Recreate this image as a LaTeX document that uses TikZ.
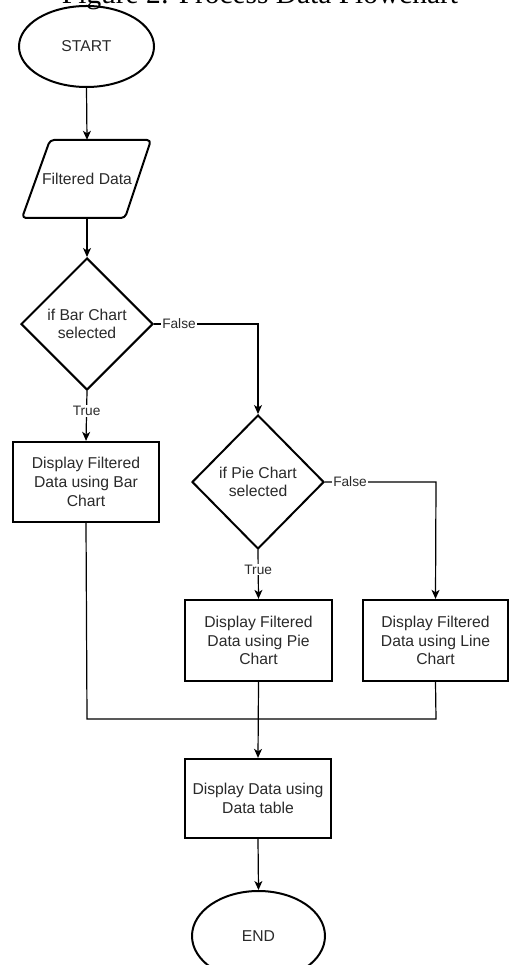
\documentclass[tikz,border=0pt]{standalone}
\usepackage{fontspec}
\setmainfont{Liberation Serif}
\setsansfont{Liberation Sans}
\usetikzlibrary{shapes.geometric,arrows.meta}
\definecolor{txt}{HTML}{2A2A2A}
\tikzset{
  shapeline/.style={draw=black, line width=2pt},
  boxnode/.style={shapeline, line width=2.3pt, rectangle, align=center, inner sep=0pt,
    font=\sffamily\fontsize{15.7}{18.7}\selectfont, text=txt},
  termnode/.style={shapeline, ellipse, inner sep=0pt, font=\sffamily\fontsize{15.7}{18.7}\selectfont, text=txt},
  decnode/.style={shapeline, diamond, aspect=1, inner sep=0pt, align=center,
    font=\sffamily\fontsize{15.7}{18.7}\selectfont, text=txt},
  conn/.style={draw=black, line width=1.2pt, -{Stealth[length=9pt,width=8pt,inset=2.5pt]}},
  plainconn/.style={draw=black, line width=1.2pt},
  lbl/.style={fill=white, inner sep=1pt, font=\sffamily\fontsize{13.7}{16}\selectfont, text=txt}
}
\begin{document}
\begin{tikzpicture}[x=1pt,y=-1pt]
\useasboundingbox (0,0) rectangle (509,965);
\clip (0,0) rectangle (509,965);
\fill[white] (0,0) rectangle (509,965);
% title (cut off at top)
\node[anchor=base, inner sep=0pt, font=\rmfamily\fontsize{29.4}{34}\selectfont] (title) at (260,3.5) {Figure 2: Process Data Flowchart};
% start
\node[termnode, minimum width=135pt, minimum height=81pt] (start) at (86.5,46.5) {START};
% filtered data parallelogram
\draw[shapeline, line join=round, rounded corners=4pt] (50,140) -- (151,140) -- (125,218) -- (22,218) -- cycle;
\node[inner sep=0pt, minimum width=100pt, minimum height=78pt, font=\sffamily\fontsize{15.7}{18.7}\selectfont, text=txt] (fd) at (87,179) {Filtered Data};
% decision 1
\node[decnode, minimum width=132pt, minimum height=132pt] (d1) at (87,324) {if Bar Chart\\selected};
% bar box
\node[boxnode, minimum width=146pt, minimum height=80pt] (bar) at (86,482) {Display Filtered\\Data using Bar\\Chart};
% decision 2
\node[decnode, minimum width=132pt, minimum height=134pt] (d2) at (258,482) {if Pie Chart\\selected};
% pie box
\node[boxnode, minimum width=147pt, minimum height=81pt] (pie) at (258.5,640.5) {Display Filtered\\Data using Pie\\Chart};
% line box
\node[boxnode, minimum width=145pt, minimum height=81pt] (line) at (435.5,640.5) {Display Filtered\\Data using Line\\Chart};
% table box
\node[boxnode, minimum width=146pt, minimum height=79pt] (table) at (258,798.5) {Display Data using\\Data table};
% end
\node[termnode, minimum width=133pt, minimum height=90pt] (end) at (258.5,936) {END};
% coordinates
\coordinate (c1) at (258,324);
\coordinate (c2) at (436,482);
\coordinate (m1) at (87,719);
\coordinate (m2) at (436,719);
% connectors
\draw[conn] (start.south) -- (fd.north);
\draw[conn] (fd.south) -- (d1.north);
\draw[conn] (d1.south) -- node[lbl, pos=0.4] (t1) {True} (bar.north);
\draw[conn] (d1.east) -- (c1) -- (d2.north);
\node[lbl] (f1) at (179,324) {False};
\draw[conn] (d2.south) -- node[lbl, pos=0.4] (t2) {True} (pie.north);
\draw[conn] (d2.east) -- (c2) -- (line.north);
\node[lbl] (f2) at (350,482) {False};
\draw[plainconn] (bar.south) -- (m1) -- (m2) -- (line.south);
\draw[conn] (pie.south) -- (table.north);
\draw[conn] (table.south) -- (end.north);
\end{tikzpicture}
\end{document}
